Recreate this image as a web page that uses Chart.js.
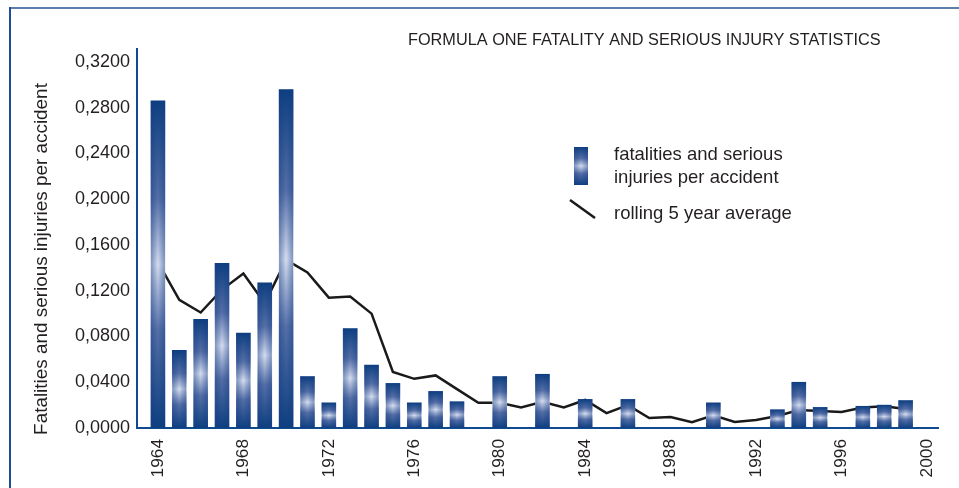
<!DOCTYPE html>
<html>
<head>
<meta charset="utf-8">
<script src="https://cdn.jsdelivr.net/npm/chart.js@4"></script>
<style>
  body { margin: 0; background: #fff; }
  canvas { display: block; }
</style>
</head>
<body>
<canvas id="f1Chart" width="959" height="488"></canvas>
<script>
// Years covered by the statistics
const years = [1964, 1965, 1966, 1967, 1968, 1969, 1970, 1971, 1972, 1973, 1974, 1975,
               1976, 1977, 1978, 1979, 1980, 1981, 1982, 1983, 1984, 1985, 1986, 1987,
               1988, 1989, 1990, 1991, 1992, 1993, 1994, 1995, 1996, 1997, 1998, 1999];

// Fatalities and serious injuries per accident (null = no bar that year)
const injuryRate = [0.286, 0.068, 0.095, 0.144, 0.083, 0.127, 0.296, 0.045, 0.022, 0.087, 0.055, 0.039,
                    0.022, 0.032, 0.023, null, 0.045, null, 0.047, null, 0.025, null, 0.025, null,
                    null, null, 0.022, null, null, 0.016, 0.040, 0.018, null, 0.019, 0.020, 0.024];

// Rolling 5 year average
const rollingAvg = [0.145, 0.112, 0.101, 0.121, 0.135, 0.109, 0.147, 0.136, 0.114, 0.115, 0.100, 0.049,
                    0.043, 0.046, 0.034, 0.022, 0.022, 0.018, 0.023, 0.018, 0.0245, 0.013, 0.020, 0.0087,
                    0.0096, 0.005, 0.011, 0.0052, 0.007, 0.0105, 0.0157, 0.0149, 0.014, 0.018, 0.019, 0.0166];

// Axis ticks
const yTicks = [0, 0.04, 0.08, 0.12, 0.16, 0.20, 0.24, 0.28, 0.32];
const xTicks = [1964, 1968, 1972, 1976, 1980, 1984, 1988, 1992, 1996, 2000];

const FONT = "'Liberation Sans', Arial, sans-serif";
const TEXT = '#231f20';
const DARK = '#0d3f80';

function verticalGradient(ctx, top, bottom) {
    const g = ctx.createLinearGradient(0, top, 0, bottom);
    g.addColorStop(0, DARK);
    g.addColorStop(0.3, '#5670a8');
    g.addColorStop(0.5, '#d6ddf0');
    g.addColorStop(0.7, '#5670a8');
    g.addColorStop(1, DARK);
    return g;
}

// Vertical dark-light-dark gradient for one bar
function barGradient(c) {
    const chart = c.chart;
    const y = chart.scales && chart.scales.y;
    if (!y || !c.raw) return DARK;
    const top = y.getPixelForValue(c.raw.y);
    const bottom = y.getPixelForValue(0);
    if (!Number.isFinite(top) || !Number.isFinite(bottom) || bottom - top < 1) return DARK;
    return verticalGradient(chart.ctx, top, bottom);
}

function sideShade(ctx, left, w) {
    const h = ctx.createLinearGradient(left, 0, left + w, 0);
    h.addColorStop(0, 'rgba(20,60,130,0.45)');
    h.addColorStop(0.5, 'rgba(20,60,130,0)');
    h.addColorStop(1, 'rgba(20,60,130,0.45)');
    return h;
}

// Darken the bar sides so bars look like the lit columns of the original
const barShading = {
    id: 'barShading',
    afterDatasetDraw(chart, args) {
        if (chart.data.datasets[args.index].type !== 'bar') return;
        const ctx = chart.ctx;
        ctx.save();
        args.meta.data.forEach(el => {
            const p = el.getProps(['x', 'y', 'base', 'width'], true);
            if (![p.x, p.y, p.base, p.width].every(Number.isFinite)) return;
            const left = p.x - p.width / 2;
            ctx.fillStyle = sideShade(ctx, left, p.width);
            ctx.fillRect(left, p.y, p.width, p.base - p.y);
        });
        ctx.restore();
    }
};

// Frame, title, axis title and legend
const decorations = {
    id: 'decorations',
    beforeDraw(chart) {
        const ctx = chart.ctx;
        ctx.save();
        ctx.fillStyle = '#5a7fab';
        ctx.fillRect(9, 7, chart.width - 9, 2);
        ctx.fillStyle = '#1d4f99';
        ctx.fillRect(9, 7, 2, chart.height - 7);
        ctx.restore();
    },
    afterDraw(chart) {
        const ctx = chart.ctx;
        ctx.save();
        ctx.fillStyle = TEXT;
        ctx.textBaseline = 'middle';

        // title
        ctx.font = '16.3px ' + FONT;
        ctx.textAlign = 'left';
        ctx.fillText('FORMULA ONE FATALITY AND SERIOUS INJURY STATISTICS', 408, 41);

        // y axis title
        ctx.save();
        ctx.translate(42, 259);
        ctx.rotate(-Math.PI / 2);
        ctx.font = '18.9px ' + FONT;
        ctx.textAlign = 'center';
        ctx.fillText('Fatalities and serious injuries per accident', 0, 0);
        ctx.restore();

        // legend
        ctx.fillStyle = verticalGradient(ctx, 147, 185);
        ctx.fillRect(574, 147, 14, 38);
        ctx.fillStyle = sideShade(ctx, 574, 14);
        ctx.fillRect(574, 147, 14, 38);
        ctx.strokeStyle = '#1a1a1a';
        ctx.lineWidth = 2.5;
        ctx.beginPath();
        ctx.moveTo(570, 200);
        ctx.lineTo(595, 218);
        ctx.stroke();
        ctx.font = '18.5px ' + FONT;
        ctx.textAlign = 'left';
        ctx.fillStyle = TEXT;
        ctx.fillText('fatalities and serious', 614, 155);
        ctx.fillText('injuries per accident', 614, 178);
        ctx.fillText('rolling 5 year average', 614, 214);
        ctx.restore();
    }
};

const ctx = document.getElementById('f1Chart').getContext('2d');

new Chart(ctx, {
    type: 'bar',
    data: {
        datasets: [
            {
                type: 'line',
                label: 'rolling 5 year average',
                data: years.map((yr, i) => ({ x: yr, y: rollingAvg[i] })),
                borderColor: '#1a1a1a',
                borderWidth: 2.5,
                pointRadius: 0,
                tension: 0,
                order: 2
            },
            {
                type: 'bar',
                label: 'fatalities and serious injuries per accident',
                data: years.map((yr, i) => ({ x: yr, y: injuryRate[i] }))
                           .filter(p => p.y !== null),
                backgroundColor: barGradient,
                borderWidth: 0,
                barThickness: 14,
                order: 1
            }
        ]
    },
    options: {
        responsive: false,
        animation: false,
        layout: { padding: { top: 49, right: 19, left: 0, bottom: 0 } },
        plugins: {
            legend: { display: false },
            tooltip: { enabled: false }
        },
        scales: {
            x: {
                type: 'linear',
                offset: false,
                min: 1963.02,
                max: 2000.56,
                afterBuildTicks: scale => { scale.ticks = xTicks.map(v => ({ value: v })); },
                afterFit: scale => { scale.height = 60; },
                grid: { display: false, drawTicks: false, offset: false },
                border: { color: '#0d4a8f', width: 2 },
                ticks: {
                    color: TEXT,
                    font: { family: FONT, size: 17.3 },
                    minRotation: 90,
                    maxRotation: 90,
                    padding: 11,
                    autoSkip: false,
                    callback: v => String(v)
                }
            },
            y: {
                min: 0,
                max: 0.3314,
                afterBuildTicks: scale => { scale.ticks = yTicks.map(v => ({ value: v })); },
                afterFit: scale => { scale.width = 137; },
                grid: { display: false, drawTicks: false },
                border: { color: '#0d4a8f', width: 2 },
                ticks: {
                    color: TEXT,
                    font: { family: FONT, size: 18 },
                    padding: 7,
                    callback: v => v.toFixed(4).replace('.', ',')
                }
            }
        }
    },
    plugins: [barShading, decorations]
});
</script>
</body>
</html>
